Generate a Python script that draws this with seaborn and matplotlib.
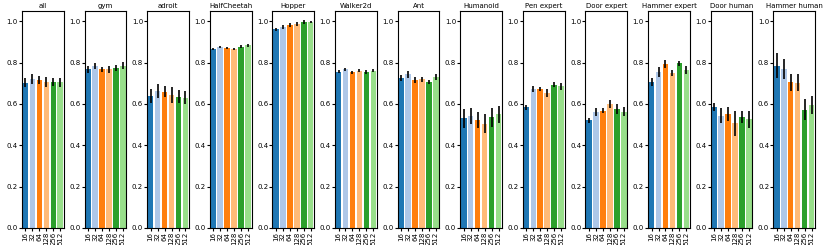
import numpy as np
import pandas as pd
import matplotlib
matplotlib.use('Agg')
import matplotlib.pyplot as plt
import seaborn as sns

sizes = ['16', '32', '64', '128', '256', '512']
titles = ['all', 'gym', 'adroit', 'HalfCheetah', 'Hopper', 'Walker2d', 'Ant',
          'Humanoid', 'Pen expert', 'Door expert', 'Hammer expert',
          'Door human', 'Hammer human']

# mean score per hidden size, and error bar half-length
all_mean = [0.703, 0.720, 0.716, 0.706, 0.706, 0.706]
all_err = [0.022, 0.025, 0.020, 0.025, 0.020, 0.022]
gym_mean = [0.767, 0.783, 0.767, 0.767, 0.774, 0.785]
gym_err = [0.015, 0.014, 0.014, 0.016, 0.014, 0.016]
adroit_mean = [0.638, 0.664, 0.659, 0.643, 0.636, 0.630]
adroit_err = [0.034, 0.035, 0.027, 0.037, 0.030, 0.032]
cheetah_mean = [0.866, 0.876, 0.871, 0.868, 0.877, 0.884]
cheetah_err = [0.006, 0.006, 0.006, 0.005, 0.008, 0.007]
hopper_mean = [0.961, 0.973, 0.981, 0.987, 0.997, 0.997]
hopper_err = [0.006, 0.008, 0.010, 0.008, 0.008, 0.006]
walker_mean = [0.756, 0.767, 0.754, 0.761, 0.754, 0.761]
walker_err = [0.008, 0.007, 0.007, 0.007, 0.008, 0.007]
ant_mean = [0.724, 0.743, 0.716, 0.719, 0.706, 0.729]
ant_err = [0.015, 0.015, 0.013, 0.013, 0.010, 0.015]
humanoid_mean = [0.530, 0.541, 0.522, 0.504, 0.535, 0.549]
humanoid_err = [0.045, 0.040, 0.040, 0.045, 0.045, 0.040]
pen_exp_mean = [0.584, 0.674, 0.671, 0.654, 0.693, 0.685]
pen_exp_err = [0.012, 0.015, 0.010, 0.020, 0.012, 0.018]
door_exp_mean = [0.521, 0.562, 0.567, 0.600, 0.575, 0.562]
door_exp_err = [0.012, 0.018, 0.012, 0.020, 0.025, 0.022]
hammer_exp_mean = [0.707, 0.756, 0.793, 0.751, 0.797, 0.764]
hammer_exp_err = [0.020, 0.025, 0.020, 0.015, 0.012, 0.018]
door_hum_mean = [0.587, 0.543, 0.551, 0.507, 0.536, 0.525]
door_hum_err = [0.020, 0.035, 0.035, 0.060, 0.030, 0.040]
hammer_hum_mean = [0.785, 0.770, 0.705, 0.703, 0.572, 0.595]
hammer_hum_err = [0.060, 0.050, 0.040, 0.040, 0.050, 0.045]

means = [all_mean, gym_mean, adroit_mean, cheetah_mean, hopper_mean, walker_mean,
         ant_mean, humanoid_mean, pen_exp_mean, door_exp_mean, hammer_exp_mean,
         door_hum_mean, hammer_hum_mean]
errs = [all_err, gym_err, adroit_err, cheetah_err, hopper_err, walker_err,
        ant_err, humanoid_err, pen_exp_err, door_exp_err, hammer_exp_err,
        door_hum_err, hammer_hum_err]

palette = sns.color_palette('tab20', 6)

plt.rcParams['font.size'] = 5
fig, axes = plt.subplots(1, len(titles), figsize=(8.3, 2.45), dpi=100)
fig.subplots_adjust(left=0.0265, right=0.982, top=0.955, bottom=0.07, wspace=0.5)

for ax, title, m, e in zip(axes, titles, means, errs):
    df = pd.DataFrame({'size': sizes, 'score': m})
    sns.barplot(data=df, x='size', y='score', hue='size', palette=palette,
                order=sizes, hue_order=sizes, legend=False, errorbar=None,
                saturation=1, ax=ax)
    ax.errorbar(np.arange(len(sizes)), m, yerr=e, fmt='none', ecolor='black',
                elinewidth=1.2, capsize=0)
    ax.set_ylim(0, 1.05)
    ax.set_xlim(-0.5, 5.5)
    ax.set_yticks([0.0, 0.2, 0.4, 0.6, 0.8, 1.0])
    ax.set_title(title, fontsize=5, pad=2)
    ax.set_xlabel('')
    ax.set_ylabel('')
    ax.tick_params(axis='x', labelrotation=90, labelsize=5, length=2, pad=1)
    ax.tick_params(axis='y', labelsize=5, length=2, pad=1)
    for s in ax.spines.values():
        s.set_linewidth(0.8)

fig.savefig('out.png', dpi=100)
